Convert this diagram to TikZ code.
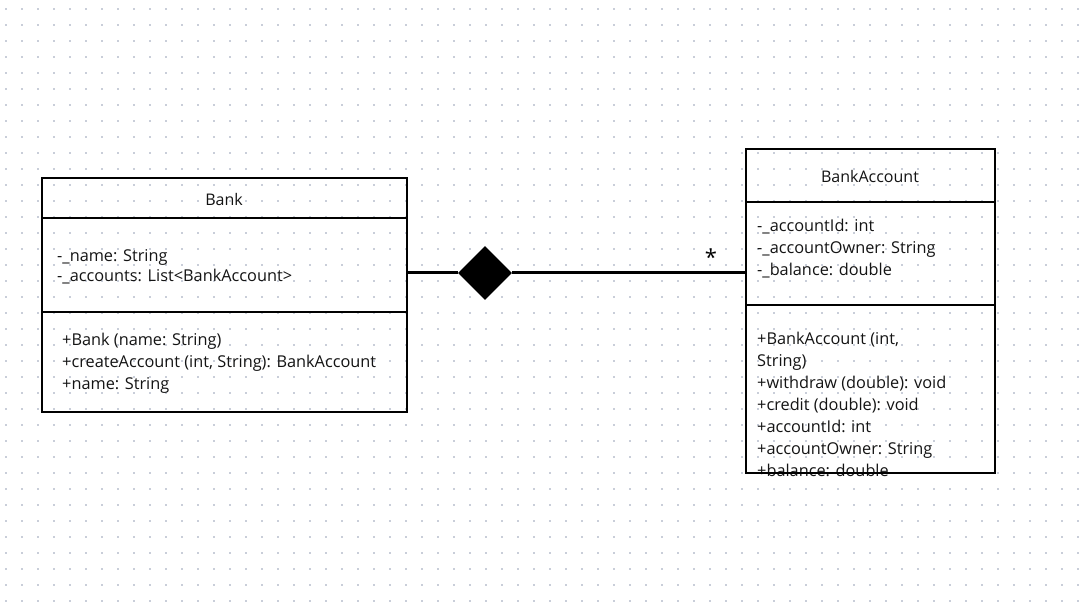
\documentclass[tikz,border=0pt]{standalone}
\usepackage{fontspec}
\setmainfont{Open Sans}
\usetikzlibrary{shapes.geometric}
\definecolor{griddot}{HTML}{C9CED9}
\definecolor{ink}{HTML}{141414}
\tikzset{
  classbox/.style={draw=black, line width=2pt, fill=none, inner sep=0pt, anchor=north west},
  sepline/.style={draw=black, line width=1.6pt},
  member/.style={anchor=base west, inner sep=0pt, text=ink, font=\fontsize{16.3}{19}\selectfont},
  title/.style={anchor=base, inner sep=0pt, text=ink, font=\fontsize{16}{19}\selectfont},
  assoc/.style={draw=black, line width=3pt},
  compdiamond/.style={diamond, fill=black, draw=none, minimum width=54pt, minimum height=54pt, inner sep=0pt}
}
\begin{document}
\begin{tikzpicture}[x=1pt, y=-1pt]
  \useasboundingbox (0,0) rectangle (1088,609);
  \fill[white] (0,0) rectangle (1088,609);
  % dotted canvas grid
  \foreach \gx in {6,22,...,1086}
    \foreach \gy in {9,25,...,601}
      \fill[griddot] (\gx-1,\gy-1) rectangle ++(2,2);

  % Bank class
  \node[classbox, minimum width=365pt, minimum height=234pt] (bank) at (41,177) {};
  \draw[sepline] (41,218) -- (406,218);
  \draw[sepline] (41,312) -- (406,312);
  \node[title] (bankname) at (224,206) {Bank};
  \node[member] (b1) at (57,261.5) {-\_name: String};
  \node[member] (b2) at (57,281.5) {-\_accounts: List<BankAccount>};
  \node[member] (b3) at (62,345.5) {+Bank (name: String)};
  \node[member] (b4) at (62,367.5) {+createAccount (int, String): BankAccount};
  \node[member] (b5) at (62,389.5) {+name: String};

  % BankAccount class
  \node[member] (a1) at (757,231.5) {-\_accountId: int};
  \node[member] (a2) at (757,253.5) {-\_accountOwner: String};
  \node[member] (a3) at (757,275.5) {-\_balance: double};
  \node[member] (a4) at (757,344.5) {+BankAccount (int,};
  \node[member] (a5) at (757,366.5) {String)};
  \node[member] (a6) at (757,388.5) {+withdraw (double): void};
  \node[member] (a7) at (757,410.5) {+credit (double): void};
  \node[member] (a8) at (757,432.5) {+accountId: int};
  \node[member] (a9) at (757,454.5) {+accountOwner: String};
  \node[member] (a10) at (757,476.5) {+balance: double};
  \node[classbox, minimum width=249pt, minimum height=324pt] (acct) at (745,148) {};
  \draw[sepline] (745,202) -- (994,202);
  \draw[sepline] (745,305) -- (994,305);
  \node[title] (acctname) at (870,183) {BankAccount};

  % composition: Bank owns many BankAccounts
  \node[compdiamond] (own) at (485,273) {};
  \coordinate (bankend) at (406,273);
  \coordinate (acctend) at (745,273);
  \draw[assoc] (bankend) -- (own.west);
  \draw[assoc] (own.east) -- (acctend);
  \node[inner sep=0pt, font=\fontsize{22}{22}\selectfont] (mult) at (711,257) {*};
\end{tikzpicture}
\end{document}
